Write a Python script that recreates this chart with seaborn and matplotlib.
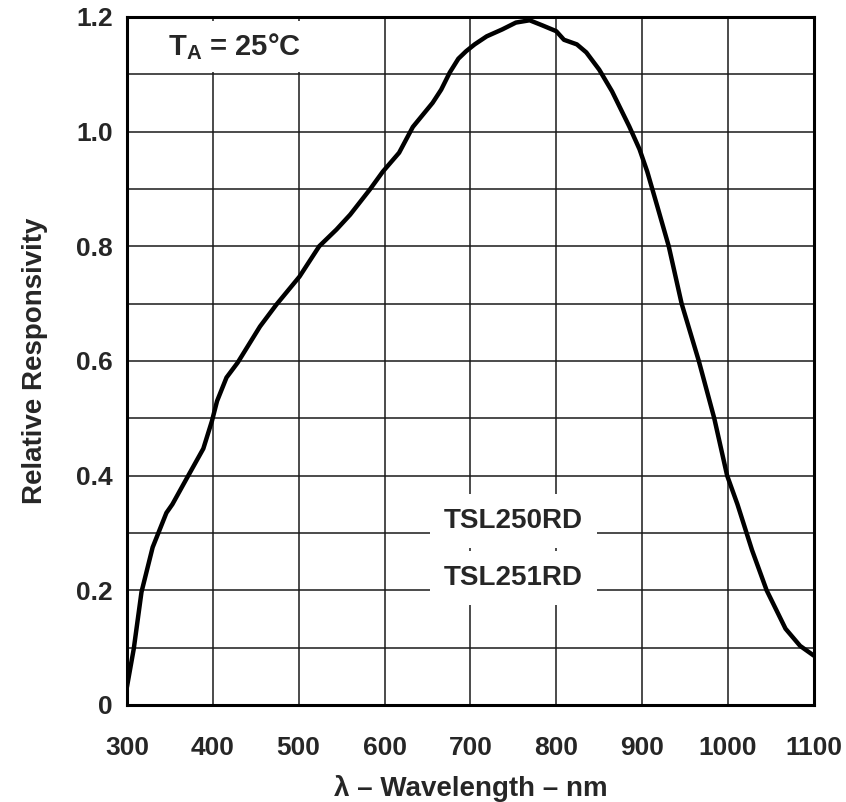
import numpy as np
import pandas as pd
import matplotlib
matplotlib.use("Agg")
import matplotlib.pyplot as plt
from matplotlib.ticker import MultipleLocator
import seaborn as sns

# data
wavelength = [300, 308, 317, 330, 346, 353, 370, 389, 399, 405, 416, 429, 455, 474,
              501, 524, 544, 560, 583, 598, 617, 633, 656, 666, 676, 686, 695, 705, 719,
              737, 753, 769, 784, 800, 809, 824, 835, 850, 865, 885, 897, 906, 918, 931,
              946, 966, 984, 999, 1011, 1028, 1045, 1067, 1084, 1100]
responsivity = [0.031, 0.098, 0.197, 0.275, 0.335, 0.350, 0.396, 0.447, 0.495, 0.530,
                0.571, 0.597, 0.660, 0.698, 0.747, 0.800, 0.829, 0.855, 0.899, 0.930,
                0.963, 1.008, 1.050, 1.073, 1.103, 1.127, 1.140, 1.152, 1.166, 1.178,
                1.190, 1.194, 1.185, 1.175, 1.160, 1.152, 1.138, 1.108, 1.070, 1.009,
                0.969, 0.930, 0.868, 0.800, 0.700, 0.600, 0.500, 0.400, 0.350, 0.270,
                0.200, 0.133, 0.103, 0.086]
x_ticks = [300, 400, 500, 600, 700, 800, 900, 1000, 1100]
y_ticks = [0, 0.2, 0.4, 0.6, 0.8, 1.0, 1.2]
y_tick_labels = ["0", "0.2", "0.4", "0.6", "0.8", "1.0", "1.2"]
device_labels = ["TSL250RD", "TSL251RD"]

sns.set_style("white")
plt.rcParams['font.family'] = ['Liberation Sans', 'DejaVu Sans']
plt.rcParams['mathtext.fontset'] = 'custom'
plt.rcParams['mathtext.rm'] = 'Liberation Sans:bold'
plt.rcParams['mathtext.bf'] = 'Liberation Sans:bold'
plt.rcParams['mathtext.it'] = 'Liberation Sans:bold'

df = pd.DataFrame({"wavelength": wavelength, "responsivity": responsivity})

fig = plt.figure(figsize=(8.46, 8.02), dpi=100)
ax = fig.add_axes([0.150, 0.121, 0.812, 0.858])

sns.lineplot(data=df, x="wavelength", y="responsivity", ax=ax,
             color="black", linewidth=3.2, zorder=5,
             solid_joinstyle="round", solid_capstyle="round")

ax.set_xlim(300, 1100)
ax.set_ylim(0, 1.2)
ax.set_xticks(x_ticks)
ax.set_xticklabels([str(v) for v in x_ticks])
ax.set_yticks(y_ticks)
ax.set_yticklabels(y_tick_labels)
ax.yaxis.set_minor_locator(MultipleLocator(0.1))
ax.grid(True, which="major", axis="x", color="#1a1a1a", linewidth=1.1, zorder=1)
ax.grid(True, which="both", axis="y", color="#1a1a1a", linewidth=1.1, zorder=1)
ax.set_axisbelow(True)

ax.tick_params(axis="both", which="both", length=0)
ax.tick_params(axis="x", pad=22, labelsize=19)
ax.tick_params(axis="y", pad=10, labelsize=19)
for lab in ax.get_xticklabels() + ax.get_yticklabels():
    lab.set_fontweight("bold")

for sp in ax.spines.values():
    sp.set_visible(True)
    sp.set_color("black")
    sp.set_linewidth(2.2)
    sp.set_zorder(6)

ax.set_xlabel("λ – Wavelength – nm", fontsize=20, fontweight="bold", labelpad=11)
ax.set_ylabel("Relative Responsivity", fontsize=20, fontweight="bold", labelpad=20)

ax.text(425, 1.148, r"T$_{\mathbf{A}}$ = 25°C", fontsize=21, fontweight="bold",
        ha="center", va="center", zorder=4,
        bbox=dict(boxstyle="square,pad=0.35", facecolor="white", edgecolor="none"))

ax.text(750, 0.321, device_labels[0], fontsize=20, fontweight="bold",
        ha="center", va="center", zorder=4,
        bbox=dict(boxstyle="square,pad=0.5", facecolor="white", edgecolor="none"))
ax.text(750, 0.222, device_labels[1], fontsize=20, fontweight="bold",
        ha="center", va="center", zorder=4,
        bbox=dict(boxstyle="square,pad=0.5", facecolor="white", edgecolor="none"))

fig.savefig("out.png", dpi=100, facecolor="white")
